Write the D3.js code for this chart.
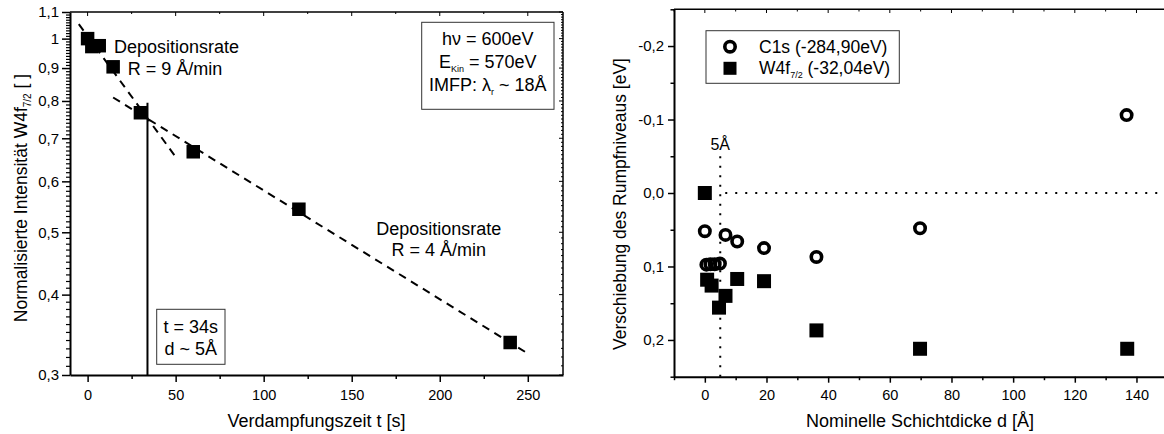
<!DOCTYPE html>
<html><head><meta charset="utf-8">
<script src="https://cdn.jsdelivr.net/npm/d3@7"></script>
<style>
body{margin:0;background:#fff;}
svg{display:block;font-family:"Liberation Sans", Arial, sans-serif;}
</style></head><body>
<svg id="c" width="1164" height="434"></svg>
<script>
// ---------- Left panel data ----------
const depTime = [0, 2.4, 6.6, 14.5, 30, 60, 120, 240];
const depIntensity = [1.0, 0.972, 0.975, 0.904, 0.767, 0.667, 0.543, 0.337];
const fitFast = [[-5, 1.053], [50, 0.655]];
const fitSlow = [[14.5, 0.81], [250, 0.324]];
const markerLine = [[34, 0.3], [34, 0.795]];
const leftXTicks = [0, 50, 100, 150, 200, 250];
const leftXMinor = [25, 75, 125, 175, 225];
const leftYTicks = [0.3, 0.4, 0.5, 0.6, 0.7, 0.8, 0.9, 1.0, 1.1];
const leftYLabels = ["0,3", "0,4", "0,5", "0,6", "0,7", "0,8", "0,9", "1", "1,1"];
const leftYMinor = d3.range(31, 110).filter(v => v % 10 !== 0).map(v => v / 100);

// ---------- Right panel data ----------
const c1sThick = [0, 0.5, 1.8, 3.2, 4.9, 6.7, 10.5, 19.2, 36.2, 69.8, 136.8];
const c1sShift = [0.052, 0.0975, 0.097, 0.097, 0.096, 0.057, 0.066, 0.075, 0.087, 0.048, -0.106];
const w4fThick = [0, 0.75, 2.2, 4.6, 6.7, 10.5, 19.2, 36.2, 69.8, 137];
const w4fShift = [0, 0.118, 0.126, 0.156, 0.14, 0.117, 0.12, 0.187, 0.212, 0.212];
const rightXTicks = [0, 20, 40, 60, 80, 100, 120, 140];
const rightXMinor = [-10, 10, 30, 50, 70, 90, 110, 130, 150];
const rightYTicks = [-0.2, -0.1, 0, 0.1, 0.2];
const rightYLabels = ["-0,2", "-0,1", "0,0", "0,1", "0,2"];
const rightYMinor = [-0.25, -0.15, -0.05, 0.05, 0.15, 0.25];
const refThickness = 5;
const refShift = 0;

const svg = d3.select("#c");
const FS_XTICK = 14.5, FS_YTICK = 15, FS_TITLE = 18, FS_YTITLE = 17.5;

function styleAxis(g, w, fs) {
  g.select(".domain").attr("stroke", "#000").attr("stroke-width", w);
  g.selectAll(".tick line").attr("stroke", "#000").attr("stroke-width", 1.5);
  g.selectAll(".tick text").attr("fill", "#000").attr("font-size", fs)
    .attr("font-family", "Liberation Sans, Arial, sans-serif");
}

// ================= LEFT PANEL =================
const xL = d3.scaleLinear().domain([-10, 270]).range([70, 563]);
const yL = d3.scaleLog().domain([0.3, 1.1]).range([375, 12]);

svg.append("line").attr("x1", 70).attr("x2", 563).attr("y1", 12).attr("y2", 12).attr("stroke", "#000").attr("stroke-width", 1.5);
svg.append("line").attr("x1", 563).attr("x2", 563).attr("y1", 12).attr("y2", 375).attr("stroke", "#000").attr("stroke-width", 1.5);
svg.append("g").selectAll("line").data(leftXTicks.concat(leftXMinor)).join("line")
  .attr("x1", d => xL(d)).attr("x2", d => xL(d)).attr("y1", 12).attr("y2", d => leftXTicks.includes(d) ? 16 : 14)
  .attr("stroke", "#000").attr("stroke-width", 1);
svg.append("g").selectAll("line").data(leftYTicks.concat(leftYMinor)).join("line")
  .attr("y1", d => yL(d)).attr("y2", d => yL(d)).attr("x1", 563).attr("x2", d => leftYTicks.includes(d) ? 559 : 561)
  .attr("stroke", "#000").attr("stroke-width", 1);

const axLB = svg.append("g").attr("transform", "translate(0,375)")
  .call(d3.axisBottom(xL).tickValues(leftXTicks).tickSize(7).tickPadding(7.5).tickSizeOuter(0));
styleAxis(axLB, 2, FS_XTICK);
const axLBm = svg.append("g").attr("transform", "translate(0,375)")
  .call(d3.axisBottom(xL).tickValues(leftXMinor).tickSize(4).tickFormat(""));
axLBm.select(".domain").remove();
axLBm.selectAll(".tick line").attr("stroke", "#000").attr("stroke-width", 1.5);

const axLL = svg.append("g").attr("transform", "translate(70,0)")
  .call(d3.axisLeft(yL).tickValues(leftYTicks).tickSize(8).tickPadding(3).tickSizeOuter(0)
    .tickFormat((d, i) => leftYLabels[i]));
styleAxis(axLL, 2, FS_YTICK);
const axLLm = svg.append("g").attr("transform", "translate(70,0)")
  .call(d3.axisLeft(yL).tickValues(leftYMinor).tickSize(4).tickFormat(""));
axLLm.select(".domain").remove();
axLLm.selectAll(".tick line").attr("stroke", "#000").attr("stroke-width", 1.2);

const lineL = d3.line().x(d => xL(d[0])).y(d => yL(d[1]));
svg.append("path").attr("d", lineL(fitFast)).attr("fill", "none").attr("stroke", "#000")
  .attr("stroke-width", 2).attr("stroke-dasharray", "8,6");
svg.append("path").attr("d", lineL(fitSlow)).attr("fill", "none").attr("stroke", "#000")
  .attr("stroke-width", 2).attr("stroke-dasharray", "8,6");
svg.append("path").attr("d", lineL(markerLine)).attr("fill", "none").attr("stroke", "#000").attr("stroke-width", 2);

const SQ = 13.5;
svg.append("g").selectAll("rect").data(depTime.map((t, i) => [t, depIntensity[i]])).join("rect")
  .attr("x", d => xL(d[0]) - SQ / 2).attr("y", d => yL(d[1]) - SQ / 2)
  .attr("width", SQ).attr("height", SQ).attr("fill", "#000");

function txt(x, y, s, anchor = "middle", fs = FS_TITLE) {
  return svg.append("text").attr("x", x).attr("y", y).attr("text-anchor", anchor)
    .attr("font-size", fs).attr("fill", "#000").text(s);
}
txt(176.5, 53, "Depositionsrate");
txt(175, 75, "R = 9 Å/min");
txt(438.7, 235, "Depositionsrate");
txt(438.7, 256, "R = 4 Å/min");

svg.append("rect").attr("x", 156.7).attr("y", 309.3).attr("width", 68.3).attr("height", 55)
  .attr("fill", "#fff").attr("stroke", "#333").attr("stroke-width", 1);
txt(190.8, 333, "t = 34s");
txt(190.8, 355, "d ~ 5Å");

svg.append("rect").attr("x", 421.7).attr("y", 22.3).attr("width", 132.3).attr("height", 87)
  .attr("fill", "#fff").attr("stroke", "#333").attr("stroke-width", 1);
txt(487.8, 45, "hν = 600eV");
{
  const t = svg.append("text").attr("x", 487.8).attr("y", 68).attr("text-anchor", "middle").attr("font-size", FS_TITLE);
  t.append("tspan").text("E");
  t.append("tspan").attr("font-size", 9).attr("dy", 4).text("Kin");
  t.append("tspan").attr("dy", -4).text(" = 570eV");
}
{
  const t = svg.append("text").attr("x", 487.8).attr("y", 91).attr("text-anchor", "middle").attr("font-size", FS_TITLE);
  t.append("tspan").text("IMFP: λ");
  t.append("tspan").attr("font-size", 9).attr("dy", 4).text("r");
  t.append("tspan").attr("dy", -4).text(" ~ 18Å");
}

txt(316.5, 427, "Verdampfungszeit t [s]");
{
  const t = svg.append("text").attr("transform", "translate(27,198) rotate(-90)")
    .attr("text-anchor", "middle").attr("font-size", FS_YTITLE);
  t.append("tspan").text("Normalisierte Intensität W4f");
  t.append("tspan").attr("font-size", 10).attr("dy", 4).text("7/2");
  t.append("tspan").attr("dy", -4).text(" [ ]");
}

// ================= RIGHT PANEL =================
const xR = d3.scaleLinear().domain([-10, 150]).range([674, 1167.3]);
const yR = d3.scaleLinear().domain([-0.25, 0.25]).range([9.3, 376.7]);

svg.append("line").attr("x1", 674).attr("x2", 1164).attr("y1", 9.3).attr("y2", 9.3).attr("stroke", "#000").attr("stroke-width", 1.5);
svg.append("g").selectAll("line").data(rightXTicks.concat(rightXMinor)).join("line")
  .attr("x1", d => xR(d)).attr("x2", d => xR(d)).attr("y1", 9.3).attr("y2", d => rightXTicks.includes(d) ? 13 : 11.5)
  .attr("stroke", "#000").attr("stroke-width", 1);

const axRB = svg.append("g").attr("transform", "translate(0,376.7)")
  .call(d3.axisBottom(xR).tickValues(rightXTicks).tickSize(6).tickPadding(7).tickSizeOuter(0));
styleAxis(axRB, 2, FS_XTICK);
const axRBm = svg.append("g").attr("transform", "translate(0,376.7)")
  .call(d3.axisBottom(xR).tickValues(rightXMinor).tickSize(3.5).tickFormat(""));
axRBm.select(".domain").remove();
axRBm.selectAll(".tick line").attr("stroke", "#000").attr("stroke-width", 1.5);

const axRL = svg.append("g").attr("transform", "translate(674,0)")
  .call(d3.axisLeft(yR).tickValues(rightYTicks).tickSize(6).tickPadding(4).tickSizeOuter(0)
    .tickFormat((d, i) => rightYLabels[i]));
styleAxis(axRL, 2, FS_YTICK);
const axRLm = svg.append("g").attr("transform", "translate(674,0)")
  .call(d3.axisLeft(yR).tickValues(rightYMinor).tickSize(3.5).tickFormat(""));
axRLm.select(".domain").remove();
axRLm.selectAll(".tick line").attr("stroke", "#000").attr("stroke-width", 1.5);

svg.append("line").attr("x1", xR(refThickness)).attr("x2", xR(refThickness))
  .attr("y1", yR(-0.05)).attr("y2", yR(0.25))
  .attr("stroke", "#000").attr("stroke-width", 2).attr("stroke-dasharray", "2,7.5");
svg.append("line").attr("x1", xR(refThickness) + 5).attr("x2", 1164)
  .attr("y1", yR(refShift)).attr("y2", yR(refShift))
  .attr("stroke", "#000").attr("stroke-width", 2).attr("stroke-dasharray", "2,8");
txt(xR(refThickness), 150, "5Å", "middle", 16);

svg.append("g").selectAll("rect").data(w4fThick.map((d, i) => [d, w4fShift[i]])).join("rect")
  .attr("x", d => xR(d[0]) - 7).attr("y", d => yR(d[1]) - 7)
  .attr("width", 14).attr("height", 14).attr("fill", "#000");
svg.append("g").selectAll("circle").data(c1sThick.map((d, i) => [d, c1sShift[i]])).join("circle")
  .attr("cx", d => xR(d[0])).attr("cy", d => yR(d[1])).attr("r", 5.2)
  .attr("fill", "none").attr("stroke", "#000").attr("stroke-width", 3.6);

svg.append("rect").attr("x", 706).attr("y", 30.7).attr("width", 193.3).attr("height", 52.6)
  .attr("fill", "none").attr("stroke", "#333").attr("stroke-width", 1);
svg.append("circle").attr("cx", 730).attr("cy", 46.7).attr("r", 5.2).attr("fill", "none").attr("stroke", "#000").attr("stroke-width", 3.6);
svg.append("rect").attr("x", 723.5).attr("y", 61.8).attr("width", 13).attr("height", 13).attr("fill", "#000");
txt(759, 52.7, "C1s (-284,90eV)", "start", 17.5);
{
  const t = svg.append("text").attr("x", 759).attr("y", 74.3).attr("font-size", 17.5);
  t.append("tspan").text("W4f");
  t.append("tspan").attr("font-size", 9).attr("dy", 4).text("7/2");
  t.append("tspan").attr("dy", -4).text(" (-32,04eV)");
}

txt(920, 427, "Nominelle Schichtdicke d [Å]");
svg.append("text").attr("transform", "translate(626,204) rotate(-90)")
  .attr("text-anchor", "middle").attr("font-size", FS_YTITLE).text("Verschiebung des Rumpfniveaus [eV]");
</script>
</body></html>
